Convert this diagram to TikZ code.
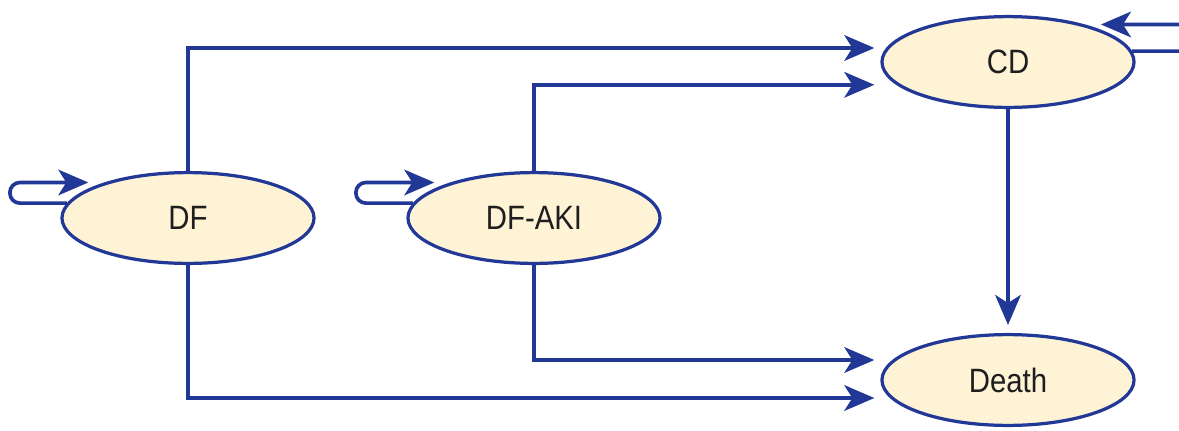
\documentclass[tikz,border=0pt]{standalone}
\usepackage{fontspec}
\setsansfont{Liberation Sans}[FakeStretch=0.87]
\usepackage{tikz}
\usetikzlibrary{calc,positioning,shapes.geometric,arrows.meta}
\definecolor{flowblue}{RGB}{34,56,150}
\definecolor{statefill}{RGB}{255,243,214}
\definecolor{statetext}{RGB}{30,30,30}

\begin{document}
\begin{tikzpicture}[x=0.025cm, y=-0.025cm,
 statebox/.style={ellipse, draw=flowblue, fill=statefill, line width=2.3pt,
          minimum width=6.3cm, minimum height=2.27cm, inner sep=0pt,
          font=\fontsize{24}{28}\selectfont\sffamily, text=statetext},
 flow/.style={-{Stealth[length=0.75cm,width=0.64cm,inset=0.2cm]}, draw=flowblue,
         line width=2.6pt},
 selfloop/.style={flow, rounded corners=0.25cm, shorten >=0.4cm}
]
\useasboundingbox (0,0) rectangle (1179,430);
\clip (0,0) rectangle (1179,430);
% Disease states
\node[statebox] (df) at (188, 218) {DF};
\node[statebox] (dfaki) at (534, 218) {DF-AKI};
\node[statebox] (cd) at (1008, 62) {CD};
\node[statebox] (death) at (1008, 380) {Death};
% Transitions between states
\draw[flow, shorten >=0.15cm] (df.north) |- ([yshift=0.35cm]cd.west);
\draw[flow, shorten >=0.15cm] (dfaki.north) |- ([yshift=-0.57cm]cd.west);
\draw[flow, shorten >=0.15cm] (df.south) |- ([yshift=-0.45cm]death.west);
\draw[flow, shorten >=0.15cm] (dfaki.south) |- ([yshift=0.5cm]death.west);
\draw[flow, shorten >=0.2cm] (cd.south) -- (death.north);
% Staying in the same state
\draw[selfloop] (df.173) -- ++(-57,0) |- (df.157);
\draw[selfloop] (dfaki.173) -- ++(-57,0) |- (dfaki.157);
\draw[selfloop, rounded corners=0.31cm] (cd.5) -- ++(80,0) |- (cd.26);
\end{tikzpicture}
\end{document}
